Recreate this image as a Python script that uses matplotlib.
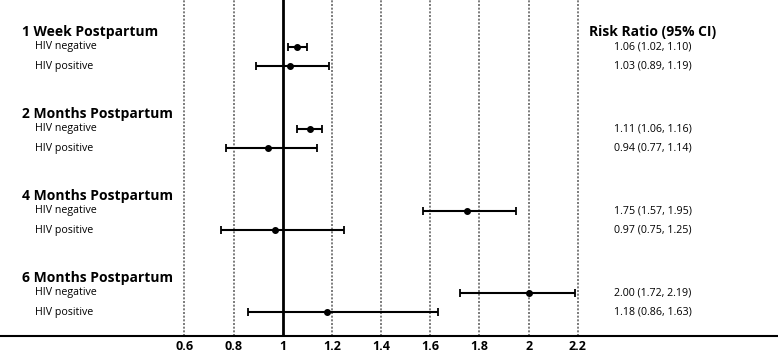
import numpy as np
import matplotlib.pyplot as plt

plt.rcParams['font.family'] = ['Open Sans', 'DejaVu Sans']

groups = ['1 Week Postpartum', '2 Months Postpartum', '4 Months Postpartum', '6 Months Postpartum']
subgroups = ['HIV negative', 'HIV positive']
rr = [[1.06, 1.03], [1.11, 0.94], [1.75, 0.97], [2.00, 1.18]]
lo = [[1.02, 0.89], [1.06, 0.77], [1.57, 0.75], [1.72, 0.86]]
hi = [[1.10, 1.19], [1.16, 1.14], [1.95, 1.25], [2.19, 1.63]]
ticks = [0.6, 0.8, 1, 1.2, 1.4, 1.6, 1.8, 2, 2.2]
tick_labels = ['0.6', '0.8', '1', '1.2', '1.4', '1.6', '1.8', '2', '2.2']

fig = plt.figure(figsize=(7.78, 3.58), dpi=100)
ax = fig.add_axes([0, 22 / 358, 1, 336 / 358])

# vertical layout in pixel-like units (top = 0)
group_step = 82
first_row = 47
row_gap = 19
header_off = -15

for t in ticks:
    if t == 1:
        ax.axvline(t, color='black', lw=2, zorder=2)
    else:
        ax.axvline(t, color='#666666', lw=1.2, ls=(0, (1.2, 1.0)), zorder=1)

for g, name in enumerate(groups):
    base = first_row + g * group_step
    ax.text(0.028, base + header_off, name, transform=ax.get_yaxis_transform(),
            fontsize=10, fontweight='bold', va='center', ha='left')
    for s, sub in enumerate(subgroups):
        y = base + s * row_gap
        ax.text(0.045, y, sub, transform=ax.get_yaxis_transform(),
                fontsize=7.7, va='center', ha='left')
        r, l, h = rr[g][s], lo[g][s], hi[g][s]
        ax.errorbar(r, y, xerr=[[r - l], [h - r]], fmt='o', color='black',
                    ms=4, lw=1.5, capsize=3, capthick=1.3, zorder=3)
        ax.text(0.839, y, f'{r:.2f} ({l:.2f}, {h:.2f})', transform=ax.get_yaxis_transform(),
                fontsize=7.7, va='center', ha='center')

ax.text(0.839, first_row + header_off, 'Risk Ratio (95% CI)', transform=ax.get_yaxis_transform(),
        fontsize=10, fontweight='bold', va='center', ha='center')

ax.set_xlim(-0.1495, 3.014)
ax.set_ylim(336, 0)
ax.set_xticks(ticks)
ax.set_xticklabels(tick_labels, fontsize=9, fontweight='bold')
ax.tick_params(axis='x', length=0, pad=3)
ax.set_yticks([])
for side in ['top', 'left', 'right']:
    ax.spines[side].set_visible(False)
ax.spines['bottom'].set_linewidth(1.5)

fig.savefig('out.png', dpi=100)
